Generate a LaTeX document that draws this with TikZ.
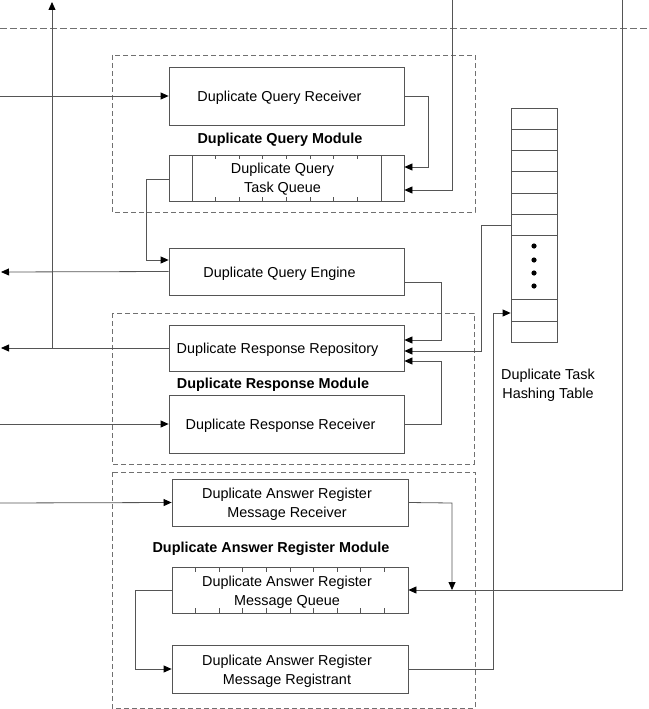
\documentclass[tikz,border=0pt]{standalone}
\usepackage{fontspec}
\setmainfont{Liberation Sans}
\usetikzlibrary{arrows.meta}
\definecolor{ln}{HTML}{555555}
\definecolor{dsh}{HTML}{707070}
\begin{document}
\begin{tikzpicture}[x=1pt,y=-1pt,
  font=\fontsize{14.4}{19}\selectfont,
  box/.style={draw=ln, line width=0.8pt, rectangle, inner sep=0pt, minimum width=235pt},
  abox/.style={box, minimum width=236pt},
  txt/.style={align=center, inner sep=0pt},
  conn/.style={draw=ln, line width=0.8pt},
  arr/.style={conn, -{Triangle[length=8pt,width=7pt,color=black]}},
  modbox/.style={draw=dsh, line width=0.7pt, dash pattern=on 5pt off 3pt},
  lbl/.style={font=\fontsize{14.4}{19}\selectfont\bfseries}
]
\useasboundingbox (0,0) rectangle (648,709);

% top dashed separator
\draw[draw=dsh, line width=0.7pt, dash pattern=on 7pt off 3pt] (0,28) -- (648,28);

% module boxes
\draw[modbox] (112,55) rectangle (475,212);
\draw[modbox] (112,313) rectangle (474,464);
\draw[modbox] (112,472) rectangle (475,708);

% boxes
\node[box, minimum height=58pt] (qrecv) at (286.5,96) {};
\node[box, minimum height=46pt] (qqueue) at (286.5,178) {};
\node[box, minimum height=47pt] (qeng) at (286.5,271.5) {};
\node[box, minimum height=46pt] (rrep) at (286.5,348) {};
\node[box, minimum height=58pt] (rrecv) at (286.5,424) {};
\node[abox, minimum height=47pt] (arecv) at (290,502.5) {};
\node[abox, minimum height=46pt] (aqueue) at (290,590) {};
\node[abox, minimum height=48pt] (areg) at (290,669) {};

% box texts
\node[txt] (qrecvT) at ([xshift=-7pt,yshift=-2pt]qrecv.center) {Duplicate Query Receiver};
\node[txt] (qqueueT) at ([xshift=-4pt,yshift=-1.5pt]qqueue.center) {Duplicate Query\\Task Queue};
\node[txt] (qengT) at ([xshift=-7pt,yshift=-2pt]qeng.center) {Duplicate Query Engine};
\node[txt] (rrepT) at ([xshift=-9pt,yshift=-2pt]rrep.center) {Duplicate Response Repository};
\node[txt] (rrecvT) at ([xshift=-6pt,yshift=-2pt]rrecv.center) {Duplicate Response Receiver};
\node[txt] (arecvT) at ([xshift=-3pt,yshift=-2pt]arecv.center) {Duplicate Answer Register\\Message Receiver};
\node[txt] (aqueueT) at ([xshift=-3pt,yshift=-2pt]aqueue.center) {Duplicate Answer Register\\Message Queue};
\node[txt] (aregT) at ([xshift=-3pt,yshift=-2pt]areg.center) {Duplicate Answer Register\\Message Registrant};

% module labels
\node[lbl] (lq) at (280,140) {Duplicate Query Module};
\node[lbl] (lr) at (273,385) {Duplicate Response Module};
\node[lbl] (la) at (271,549) {Duplicate Answer Register Module};

% queue details
\draw[conn] (192,155) -- (192,201) (381,155) -- (381,201);
\foreach \k in {1,...,7} {
  \draw[conn] ({192+23.625*\k},155) -- ++(0,4);
  \draw[conn] ({192+23.625*\k},201) -- ++(0,-4);
}
\foreach \k in {1,...,9} {
  \draw[conn] ({172+23.6*\k},567) -- ++(0,5);
  \draw[conn] ({172+23.6*\k},613) -- ++(0,-5);
}

% hashing table
\node[draw=ln, line width=0.8pt, rectangle, inner sep=0pt, minimum width=46pt, minimum height=234pt] (hash) at (534,225) {};
\foreach \yy in {129,150,171,193,214,235,299,321} {
  \draw[conn] (511,\yy) -- (557,\yy);
}
\foreach \yy in {246,260,273,286} {
  \fill (534,\yy) circle (2.6pt);
}
\node[align=center] (hlbl) at (548,385) {Duplicate Task\\Hashing Table};

% coordinates
\coordinate (inq) at (0,96);
\coordinate (inr) at (0,424);
\coordinate (ina) at (0,503);
\coordinate (oute) at (1,272);
\coordinate (outr) at (1,348);
\coordinate (jr) at (52,348);
\coordinate (upend) at (52,2);
\coordinate (top1) at (452,0);
\coordinate (top2) at (622,0);

% connectors
\draw[arr] (inq) -- (qrecv.west);
\draw[arr] (qrecv.east) -- (428,96) -- (428,167) -- ([yshift=11pt]qqueue.east);
\draw[arr] (top1) -- (452,190) -- ([yshift=-12pt]qqueue.east);
\draw[conn] ([yshift=-1pt]qqueue.west) -- (146,179);
\draw[arr] (146,179) -- (146,260) -- ([yshift=11.5pt]qeng.west);
\draw[arr] (qeng.west) -- (oute);
\draw[arr] ([yshift=-10.5pt]qeng.east) -- (441,282) -- (441,340) -- ([yshift=8pt]rrep.east);
\draw[arr] (hash.west |- 0,225) -- (481,225) -- (481,351) -- ([yshift=-3pt]rrep.east);
\draw[arr] (rrecv.east) -- (441,424) -- (441,361) -- ([yshift=-13pt]rrep.east);
\draw[arr] (inr) -- (rrecv.west);
\draw[arr] (rrep.west) -- (outr);
\draw[arr] (jr) -- (upend);
\draw[arr] (ina) -- (arecv.west);
\draw[arr] (arecv.east) -- (452,503) -- (452,590);
\draw[arr] (top2) -- (622,590) -- (aqueue.east);
\draw[arr] (aqueue.west) -- (135,590) -- (135,669) -- (areg.west);
\draw[arr] (areg.east) -- (493,669) -- (493,313) -- (hash.west |- 0,313);
\end{tikzpicture}
\end{document}
